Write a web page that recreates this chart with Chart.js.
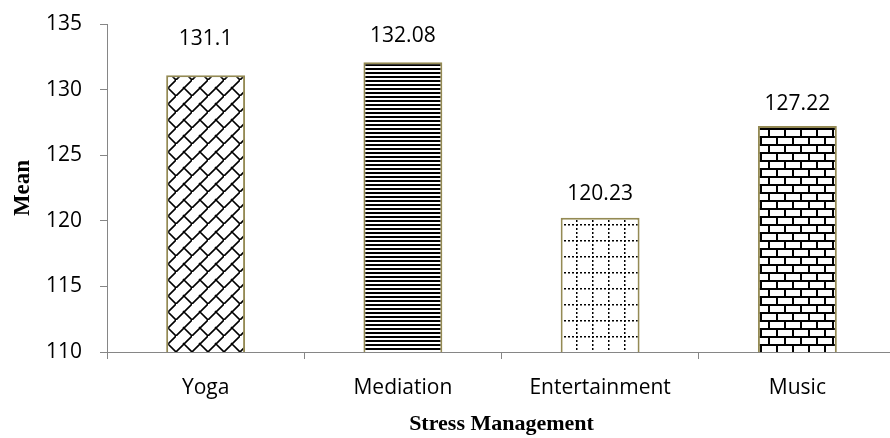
<!DOCTYPE html>
<html>
<head>
<meta charset="utf-8">
<script src="https://cdn.jsdelivr.net/npm/chart.js@4.4.0/dist/chart.umd.min.js"></script>
<style>
  html, body { margin: 0; padding: 0; overflow: hidden; background: #fff; }
  canvas { display: block; }
</style>
</head>
<body>
<canvas id="meanChart" width="896" height="438"></canvas>
<script>
const categories = ["Yoga", "Mediation", "Entertainment", "Music"];
const meanValues = [131.1, 132.08, 120.23, 127.22];
const yTicks = [110, 115, 120, 125, 130, 135];

const axisGrey = "#868686";
const barEdge = "#948a54";

// small tiles for the excel-like fill patterns
function makePattern(w, h, draw) {
  const c = document.createElement("canvas");
  c.width = w;
  c.height = h;
  const g = c.getContext("2d");
  g.fillStyle = "#fff";
  g.fillRect(0, 0, w, h);
  g.fillStyle = "#000";
  g.strokeStyle = "#000";
  draw(g);
  return document.getElementById("meanChart").getContext("2d").createPattern(c, "repeat");
}

// diagonal brick
const diagBrick = makePattern(16, 16, g => {
  g.lineWidth = 1.6;
  g.beginPath();
  g.moveTo(-1, 17); g.lineTo(17, -1);
  g.moveTo(7, 7); g.lineTo(17, 17);
  g.stroke();
});

// dark horizontal lines
const darkHoriz = makePattern(4, 4, g => {
  g.fillRect(0, 0, 4, 2);
});

// dotted grid
const dottedGrid = makePattern(16, 16, g => {
  for (let i = 0; i < 16; i += 4) {
    g.fillRect(i, 0, 2, 1.5);
    g.fillRect(0, i, 1.5, 2);
  }
});

// horizontal brick
const horizBrick = makePattern(16, 16, g => {
  g.fillRect(0, 0, 16, 2);
  g.fillRect(0, 0, 2, 8);
  g.fillRect(0, 8, 16, 2);
  g.fillRect(8, 8, 2, 8);
});

const labelFont = { family: "Open Sans", size: 21 };

const valueLabels = {
  id: "valueLabels",
  afterDatasetsDraw(chart, args, opts) {
    const { ctx } = chart;
    const meta = chart.getDatasetMeta(0);
    ctx.save();
    ctx.font = `${labelFont.size}px "${labelFont.family}"`;
    ctx.fillStyle = "#000";
    ctx.textAlign = "center";
    ctx.textBaseline = "middle";
    meta.data.forEach((bar, i) => {
      ctx.fillText(String(meanValues[i]), bar.x, bar.y - opts.offsets[i]);
    });
    ctx.restore();
  }
};

new Chart(document.getElementById("meanChart"), {
  type: "bar",
  data: {
    labels: categories,
    datasets: [{
      data: meanValues,
      backgroundColor: [diagBrick, darkHoriz, dottedGrid, horizBrick],
      borderColor: barEdge,
      borderWidth: 2,
      borderSkipped: "start",
      categoryPercentage: 1,
      barPercentage: 0.4
    }]
  },
  options: {
    responsive: false,
    animation: false,
    layout: { padding: { top: 24, left: 0, right: 0, bottom: 0 } },
    plugins: {
      legend: { display: false },
      tooltip: { enabled: false },
      valueLabels: { offsets: [36, 26, 24, 22] }
    },
    scales: {
      x: {
        grid: { drawOnChartArea: false, tickLength: 7, color: axisGrey, offset: true },
        border: { color: axisGrey, width: 1 },
        ticks: { font: labelFont, color: "#000", padding: 16 },
        title: {
          display: true,
          text: "Stress Management",
          font: { family: "Liberation Serif", size: 22, weight: "bold" },
          color: "#000",
          padding: { top: 0, bottom: 0 }
        },
        afterFit: s => { s.height = 86; }
      },
      y: {
        min: yTicks[0],
        max: yTicks[yTicks.length - 1],
        grid: { drawOnChartArea: false, tickLength: 7, color: axisGrey },
        border: { color: axisGrey, width: 1 },
        ticks: { stepSize: yTicks[1] - yTicks[0], font: labelFont, color: "#000", padding: 18 },
        title: {
          display: true,
          text: "Mean",
          font: { family: "Liberation Serif", size: 23, weight: "bold" },
          color: "#000",
          padding: { top: 9, bottom: 0 }
        },
        afterFit: s => {
          s.width = 107;
          s.paddingTop = 12;
          s.paddingBottom = 12;
        }
      }
    }
  },
  plugins: [valueLabels]
});
</script>
</body>
</html>
